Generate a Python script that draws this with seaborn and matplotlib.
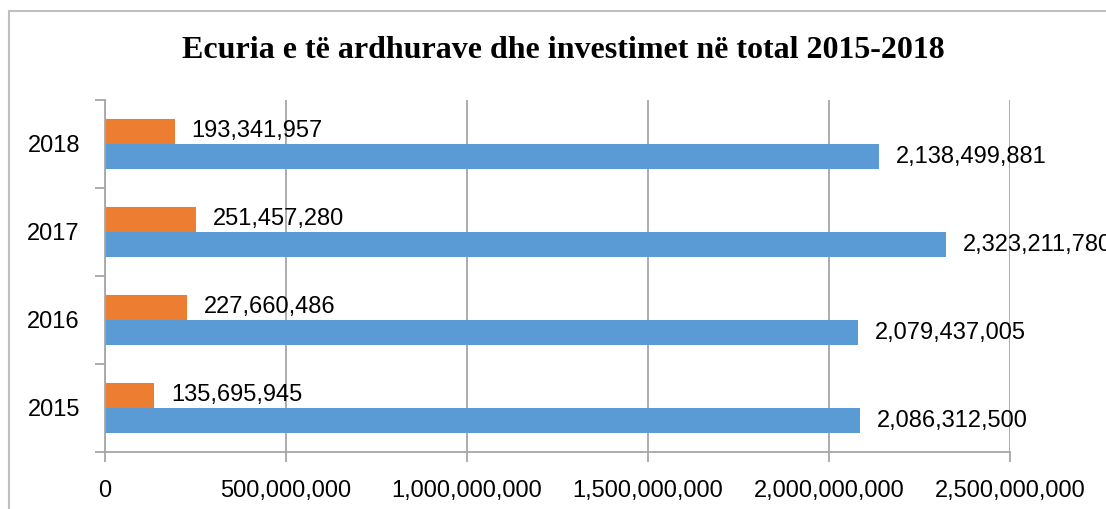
import pandas as pd
import matplotlib.pyplot as plt
import seaborn as sns
from matplotlib.lines import Line2D
from matplotlib.ticker import FuncFormatter, FixedLocator

# Chart data
years = ['2018', '2017', '2016', '2015']
series_names = ['Investimet', 'Të ardhurat']
investimet = [193341957, 251457280, 227660486, 135695945]
te_ardhurat = [2138499881, 2323211780, 2079437005, 2086312500]
x_ticks = [0, 500000000, 1000000000, 1500000000, 2000000000, 2500000000]

colors = ['#ED7D31', '#5B9BD5']

df = pd.DataFrame({
    'year': years * 2,
    'series': [series_names[0]] * 4 + [series_names[1]] * 4,
    'value': investimet + te_ardhurat,
})

sns.set_theme(style='white')
plt.rcParams['font.family'] = ['Liberation Sans', 'DejaVu Sans']

fig = plt.figure(figsize=(11.06, 5.09), dpi=100)
ax = fig.add_axes([105 / 1106, 1 - 452 / 509, 905 / 1106, 352 / 509])

sns.barplot(data=df, x='value', y='year', hue='series', order=years,
            hue_order=series_names, palette=colors, orient='h',
            width=0.57, gap=0, saturation=1, edgecolor='none',
            legend=False, ax=ax)

# value labels next to each bar
for container in ax.containers:
    ax.bar_label(container, labels=[f'{v:,.0f}' for v in container.datavalues],
                 padding=12, fontsize=17, color='#000000')

ax.set_xlim(0, 2500000000)
ax.set_ylim(3.5, -0.5)
ax.xaxis.set_major_locator(FixedLocator(x_ticks))
ax.xaxis.set_major_formatter(FuncFormatter(lambda v, p: f'{v:,.0f}'))
ax.grid(axis='x', color='#A6A6A6', linewidth=1.3)
ax.set_axisbelow(True)
ax.set_xlabel('')
ax.set_ylabel('')

for s in ['top', 'right']:
    ax.spines[s].set_visible(False)
for s in ['left', 'bottom']:
    ax.spines[s].set_color('#A6A6A6')
    ax.spines[s].set_linewidth(1.3)

# y ticks at category boundaries, labels centred
ax.yaxis.set_minor_locator(FixedLocator([-0.5, 0.5, 1.5, 2.5, 3.5]))
ax.tick_params(axis='y', which='major', length=0, pad=18, labelsize=17,
               labelcolor='#000000')
ax.tick_params(axis='y', which='minor', left=True, length=7, width=1.3,
               color='#A6A6A6')
ax.tick_params(axis='x', which='major', bottom=True, length=7, width=1.3,
               color='#A6A6A6', pad=13, labelsize=17, labelcolor='#000000')

fig.text(563 / 1106, 1 - 51 / 509, 'Ecuria e të ardhurave dhe investimet në total 2015-2018',
         ha='center', va='center', fontsize=23, fontweight='bold',
         family=['Liberation Serif', 'DejaVu Serif'], color='#000000')

# chart area frame (cropped at right and bottom)
fig.add_artist(Line2D([9 / 1106, 9 / 1106], [0, 1 - 11 / 509],
                      transform=fig.transFigure, color='#BFBFBF', linewidth=1.5))
fig.add_artist(Line2D([9 / 1106, 1], [1 - 11 / 509, 1 - 11 / 509],
                      transform=fig.transFigure, color='#BFBFBF', linewidth=1.5))

fig.savefig('out.png', dpi=100, facecolor='white')
